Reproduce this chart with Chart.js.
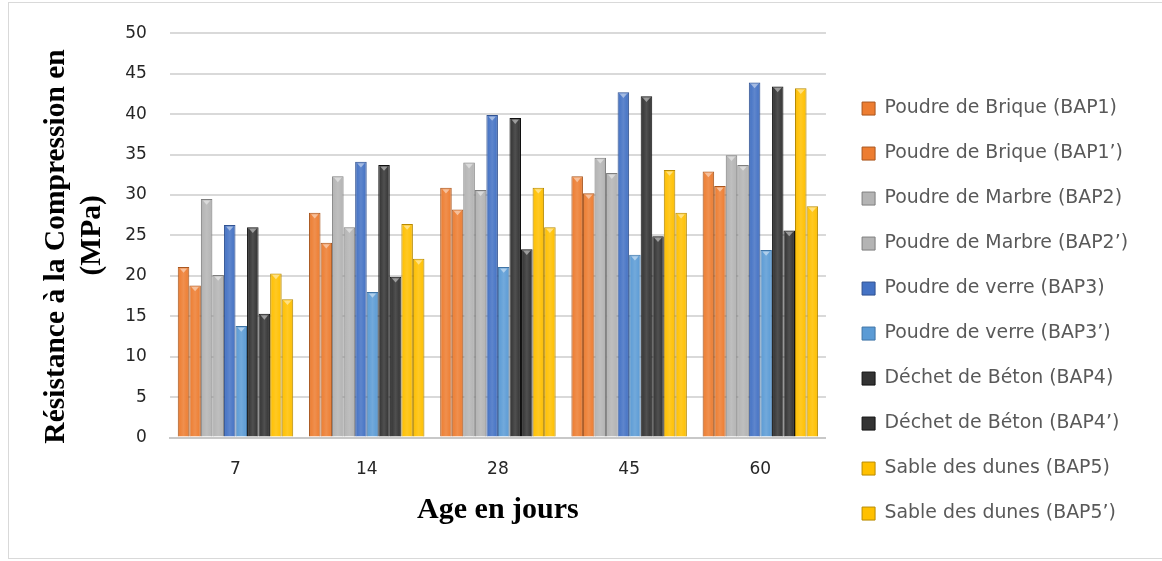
<!DOCTYPE html>
<html>
<head>
<meta charset="utf-8">
<script src="https://cdn.jsdelivr.net/npm/chart.js@4.4.1/dist/chart.umd.min.js"></script>
<style>
  html, body { margin: 0; padding: 0; background: #ffffff; overflow: hidden; }
  #wrap { position: relative; width: 1162px; height: 561px; }
  #frame { position: absolute; left: 8px; top: 2px; width: 1200px; height: 557px; border: 1px solid #d9d9d9; box-sizing: border-box; }
  canvas { position: absolute; left: 0; top: 0; }
</style>
</head>
<body>
<div id="wrap">
  <div id="frame"></div>
  <canvas id="c" width="1162" height="561"></canvas>
</div>
<script>
// ---- data ----
const categories = ['7', '14', '28', '45', '60'];
const yTicks = [0, 5, 10, 15, 20, 25, 30, 35, 40, 45, 50];
const seriesNames = [
  'Poudre de Brique (BAP1)', 'Poudre de Brique (BAP1’)',
  'Poudre de Marbre (BAP2)', 'Poudre de Marbre (BAP2’)',
  'Poudre de verre (BAP3)', 'Poudre de verre (BAP3’)',
  'Déchet de Béton (BAP4)', 'Déchet de Béton (BAP4’)',
  'Sable des dunes (BAP5)', 'Sable des dunes (BAP5’)'
];
const bap1  = [21.1, 27.8, 30.9, 32.3, 32.9];
const bap1p = [18.8, 24.1, 28.2, 30.2, 31.1];
const bap2  = [29.5, 32.3, 34.0, 34.6, 34.9];
const bap2p = [20.1, 26.0, 30.6, 32.7, 33.7];
const bap3  = [26.3, 34.1, 39.9, 42.7, 43.9];
const bap3p = [13.8, 18.0, 21.1, 22.6, 23.2];
const bap4  = [26.0, 33.7, 39.5, 42.2, 43.4];
const bap4p = [15.3, 19.9, 23.3, 24.9, 25.6];
const bap5  = [20.3, 26.4, 30.9, 33.1, 43.2];
const bap5p = [17.1, 22.1, 26.0, 27.8, 28.6];
const seriesValues = [bap1, bap1p, bap2, bap2p, bap3, bap3p, bap4, bap4p, bap5, bap5p];

// ---- styles ----
const fills   = ['#ED7D31', '#ED7D31', '#B4B4B4', '#B4B4B4', '#4472C4', '#5B9BD5', '#333333', '#333333', '#FFC000', '#FFC000'];
const borders = ['#A9561E', '#A9561E', '#7E7E7E', '#7E7E7E', '#2F5191', '#3E74A6', '#111111', '#111111', '#B88A00', '#B88A00'];

const datasets = seriesNames.map((name, i) => ({
  label: name,
  data: seriesValues[i],
  backgroundColor: fills[i],
  borderColor: borders[i],
  borderWidth: 1,
  categoryPercentage: 0.88,
  barPercentage: 1.0
}));

const bevel = {
  id: 'bevel',
  afterDatasetsDraw(chart) {
    const ctx = chart.ctx;
    chart.data.datasets.forEach((ds, i) => {
      const meta = chart.getDatasetMeta(i);
      if (meta.hidden) return;
      meta.data.forEach(bar => {
        const p = bar.getProps(['x', 'y', 'base', 'width'], true);
        const l = p.x - p.width / 2, r = p.x + p.width / 2;
        const h = p.base - p.y;
        ctx.save();
        const g = ctx.createLinearGradient(l, 0, r, 0);
        g.addColorStop(0, 'rgba(0,0,0,0.28)');
        g.addColorStop(0.18, 'rgba(255,255,255,0.04)');
        g.addColorStop(0.5, 'rgba(255,255,255,0.14)');
        g.addColorStop(0.82, 'rgba(255,255,255,0.04)');
        g.addColorStop(1, 'rgba(0,0,0,0.32)');
        ctx.fillStyle = g;
        ctx.fillRect(l + 1, p.y + 1, p.width - 2, h - 1);
        ctx.beginPath();
        ctx.moveTo(l + 2, p.y + 1.5);
        ctx.lineTo(r - 2, p.y + 1.5);
        ctx.lineTo(p.x, p.y + p.width / 2);
        ctx.closePath();
        ctx.fillStyle = 'rgba(255,255,255,0.45)';
        ctx.fill();
        ctx.restore();
      });
    });
  }
};

const legendShift = {
  id: 'legendShift',
  afterLayout(chart) {
    const lg = chart.legend;
    if (lg) { lg.left += 10; lg.right += 10; }
  }
};

new Chart(document.getElementById('c'), {
  type: 'bar',
  data: { labels: categories, datasets },
  plugins: [legendShift, bevel],
  options: {
    responsive: false,
    animation: false,
    devicePixelRatio: 1,
    layout: { padding: { left: 10, top: 22, right: 34, bottom: 0 } },
    plugins: {
      tooltip: { enabled: false },
      legend: {
        position: 'right',
        align: 'start',
        maxWidth: 400,
        title: { display: true, text: ' ', font: { size: 10, lineHeight: 1 }, padding: { top: 0, bottom: 41 } },
        labels: {
          boxWidth: 13,
          boxHeight: 13,
          padding: 26.1,
          color: '#595959',
          font: { family: 'DejaVu Sans', size: 18.9 }
        }
      }
    },
    scales: {
      x: {
        grid: { display: false, drawTicks: false },
        border: { display: true, color: '#c8c8c8', width: 2 },
        ticks: { color: '#262626', padding: 22, font: { family: 'DejaVu Sans', size: 17 } },
        title: {
          display: true,
          text: 'Age en jours',
          color: '#000000',
          font: { family: 'Liberation Serif', size: 30, weight: 'bold', lineHeight: 1.2 },
          padding: { top: -10, bottom: 33 }
        }
      },
      y: {
        min: 0,
        max: 50,
        afterBuildTicks(scale) { scale.ticks = yTicks.map(v => ({ value: v })); },
        grid: { color: '#d9d9d9', lineWidth: 2, drawTicks: false },
        border: { display: false },
        ticks: { color: '#262626', padding: 23, font: { family: 'DejaVu Sans', size: 17 } },
        title: {
          display: true,
          text: ['Résistance à la Compression en   ', '(MPa)'],
          color: '#000000',
          font: { family: 'Liberation Serif', size: 29.5, weight: 'bold', lineHeight: 1.25 },
          padding: { top: 27.5, bottom: -9 }
        }
      }
    }
  }
});
</script>
</body>
</html>
